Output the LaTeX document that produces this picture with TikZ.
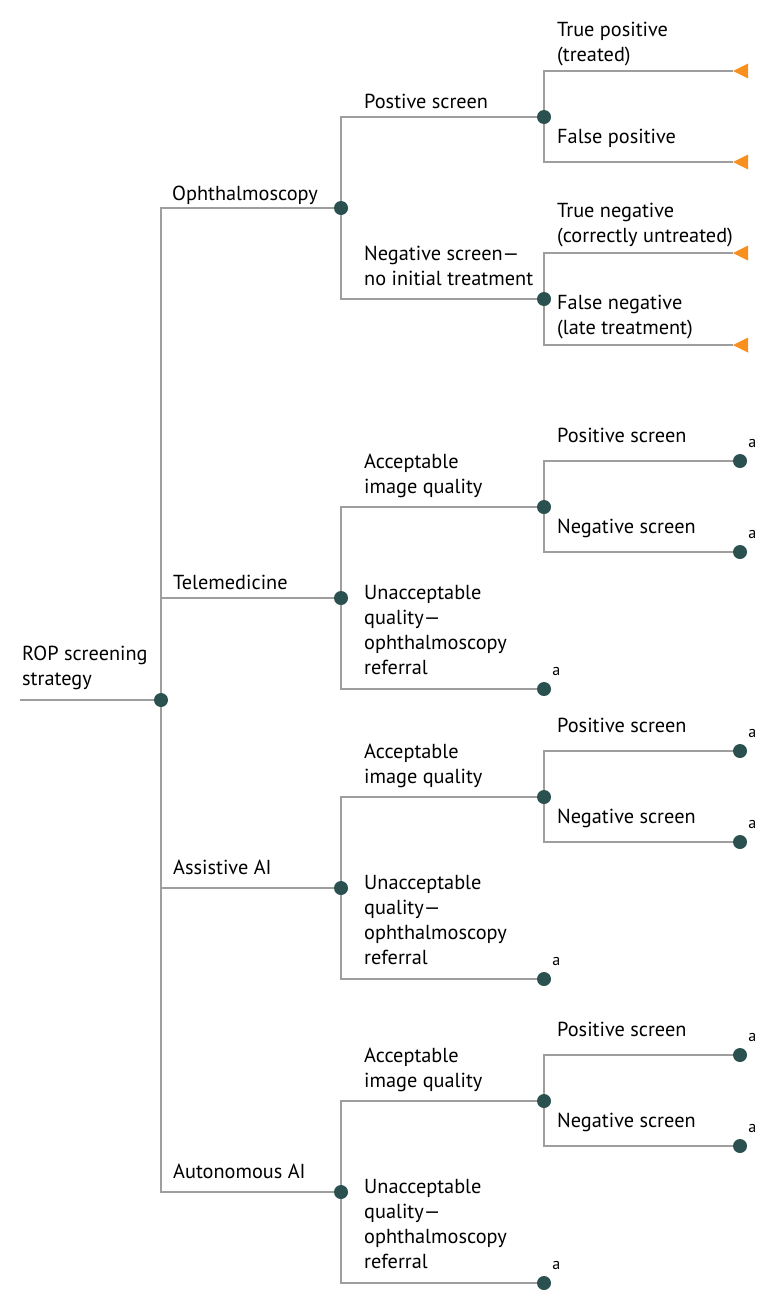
\documentclass[tikz,border=0pt]{standalone}
\usepackage{fontspec}
\setmainfont{PT Sans}
\usepackage{xcolor}
\usetikzlibrary{positioning}
\definecolor{dotteal}{HTML}{2A5150}
\definecolor{linegray}{HTML}{9E9E9E}
\definecolor{leaforange}{HTML}{F7901E}

\begin{document}
\begin{tikzpicture}[
    x=1pt, y=-1pt,
    dot/.style={circle, fill=dotteal, minimum size=14pt, inner sep=0pt},
    branch/.style={draw=linegray, line width=1.3pt},
    lbl/.style={anchor=base west, inner sep=0pt, align=left, font=\fontsize{20.3}{25}\selectfont},
    supa/.style={inner sep=0pt, font=\fontsize{16}{18}\selectfont},
    leaf/.style={fill=leaforange}
]
\useasboundingbox (0,0) rectangle (776,1312);
\coordinate (start) at (20,700);
\node[dot] (root)   at (161,700)  {};
\node[dot] (oph)    at (341,208)  {};
\node[dot] (tele)   at (341,598)  {};
\node[dot] (assist) at (341,888)  {};
\node[dot] (auto)   at (341,1192) {};
\node[dot] (possc)  at (544,117)  {};
\node[dot] (negsc)  at (544,299)  {};
\coordinate (tp) at (733,71);
\coordinate (fp) at (733,162);
\coordinate (tn) at (733,253);
\coordinate (fn) at (733,345);

\draw[branch] (start) -- (root);
\foreach \b in {oph,tele,assist,auto}
    \draw[branch] (root) |- (\b);
\draw[branch] (oph) |- (possc);
\draw[branch] (oph) |- (negsc);
\draw[branch] (possc) |- (tp);
\draw[branch] (possc) |- (fp);
\draw[branch] (negsc) |- (tn);
\draw[branch] (negsc) |- (fn);
\foreach \t in {tp,fp,tn,fn}
    \fill[leaf] (\t) -- ++(15,-7.5) -- ++(0,15) -- cycle;

\node[lbl] (rootlbl) at (22,685)  {ROP screening\\strategy};
\node[lbl] (ophlbl)  at (172,200) {Ophthalmoscopy};
\node[lbl] (telelbl) at (173,589) {Telemedicine};
\node[lbl] (asslbl)  at (173,874) {Assistive AI};
\node[lbl] (autolbl) at (173,1178) {Autonomous AI};
\node[lbl] (poslbl)  at (364,108) {Postive screen};
\node[lbl] (neglbl)  at (364,285) {Negative screen—\\no initial treatment};
\node[lbl] (tplbl)   at (557,61)  {True positive\\(treated)};
\node[lbl] (fplbl)   at (557,143) {False positive};
\node[lbl] (tnlbl)   at (557,242) {True negative\\(correctly untreated)};
\node[lbl] (fnlbl)   at (557,334) {False negative\\(late treatment)};

\foreach \n/\y in {tele/598, assist/888, auto/1192} {
    \node[dot] (acc\n) at (544,{\y-91})  {};
    \node[dot] (una\n) at (544,{\y+91})  {};
    \node[dot] (pos\n) at (740,{\y-137}) {};
    \node[dot] (neg\n) at (740,{\y-46})  {};
    \draw[branch] (\n) |- (acc\n);
    \draw[branch] (\n) |- (una\n);
    \draw[branch] (acc\n) |- (pos\n);
    \draw[branch] (acc\n) |- (neg\n);
    \node[lbl] at (364,{\y-105}) {Acceptable\\image quality};
    \node[lbl] at (364,{\y+76})  {Unacceptable\\quality—\\ophthalmoscopy\\referral};
    \node[lbl] at (557,{\y-156}) {Positive screen};
    \node[lbl] at (557,{\y-65})  {Negative screen};
    \node[supa, above right=8pt and 3pt of pos\n] {a};
    \node[supa, above right=8pt and 3pt of neg\n] {a};
    \node[supa, above right=8pt and 3pt of una\n] {a};
}
\end{tikzpicture}
\end{document}
